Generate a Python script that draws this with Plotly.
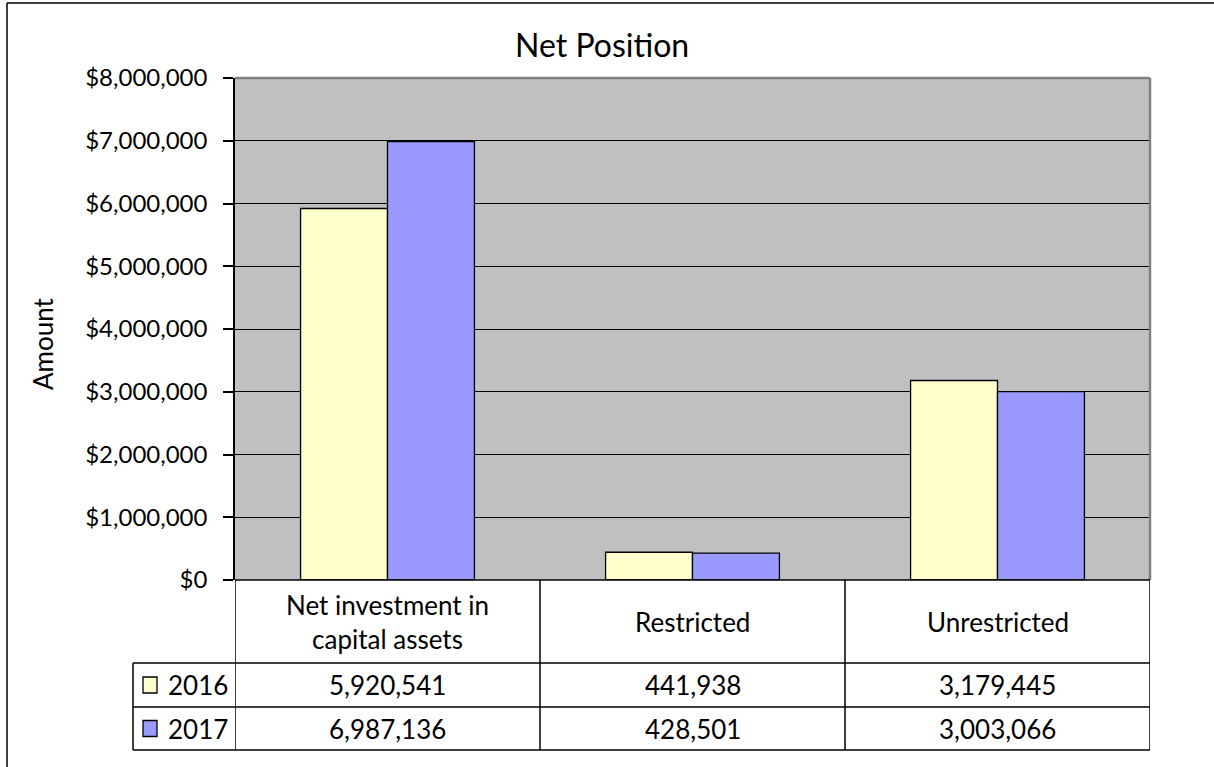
import plotly.graph_objects as go

categories = ["Net investment in capital assets", "Restricted", "Unrestricted"]
header_labels = ["Net investment in<br>capital assets", "Restricted", "Unrestricted"]
series_names = ["2016", "2017"]
values_2016 = [5920541, 441938, 3179445]
values_2017 = [6987136, 428501, 3003066]
colors = ["#FFFFCC", "#9999FF"]
y_ticks = [0, 1000000, 2000000, 3000000, 4000000, 5000000, 6000000, 7000000, 8000000]
y_tick_labels = ["$" + f"{v:,}" for v in y_ticks]

W, H = 1214, 767
L, R, T, B = 235, 1150, 78, 580
FONT = "Lato"


def px_x(x):
    return (x - L) / (R - L)


def px_y(y):
    return (B - y) / (B - T)


fig = go.Figure()
for name, vals, col in zip(series_names, [values_2016, values_2017], colors):
    fig.add_trace(go.Bar(
        x=categories, y=vals, name=name,
        marker=dict(color=col, line=dict(color="black", width=1.3)),
        showlegend=False,
    ))

shapes = []
annotations = []

# outer border of chart area (top and left edges visible)
shapes.append(dict(type="line", xref="paper", yref="paper",
                   x0=px_x(7), x1=px_x(W), y0=px_y(3), y1=px_y(3),
                   line=dict(color="black", width=1.5)))
shapes.append(dict(type="line", xref="paper", yref="paper",
                   x0=px_x(7), x1=px_x(7), y0=px_y(3), y1=px_y(H),
                   line=dict(color="black", width=1.5)))
# plot top & right border (grey)
shapes.append(dict(type="line", xref="paper", yref="paper", x0=0, x1=1, y0=1, y1=1,
                   line=dict(color="#808080", width=2.5)))
shapes.append(dict(type="line", xref="paper", yref="paper", x0=1, x1=1, y0=0, y1=1,
                   line=dict(color="#808080", width=2.5)))

# table geometry
row_lines = [663, 707, 750]
n = len(categories)
for yy in row_lines:
    shapes.append(dict(type="line", xref="paper", yref="paper",
                       x0=px_x(133), x1=1, y0=px_y(yy), y1=px_y(yy),
                       line=dict(color="black", width=1.5)))
for i in range(n + 1):
    shapes.append(dict(type="line", xref="x", yref="paper",
                       x0=i - 0.5, x1=i - 0.5, y0=0, y1=px_y(750),
                       line=dict(color="black", width=1.5)))
shapes.append(dict(type="line", xref="paper", yref="paper",
                   x0=px_x(133), x1=px_x(133), y0=px_y(663), y1=px_y(750),
                   line=dict(color="black", width=1.5)))
shapes.append(dict(type="line", xref="paper", yref="paper", x0=0, x1=1, y0=0, y1=0,
                   line=dict(color="black", width=1.5)))

# header row texts
for i, lab in enumerate(header_labels):
    annotations.append(dict(x=i, y=px_y(622), xref="x", yref="paper", text=lab,
                            showarrow=False, font=dict(family=FONT, size=26, color="black"),
                            xanchor="center", yanchor="middle"))

row_centers = [685, 728.5]
for r, (name, vals, col) in enumerate(zip(series_names, [values_2016, values_2017], colors)):
    yc = row_centers[r]
    for i, v in enumerate(vals):
        annotations.append(dict(x=i, y=px_y(yc), xref="x", yref="paper", text=f"{v:,}",
                                showarrow=False, font=dict(family=FONT, size=26, color="black"),
                                xanchor="center", yanchor="middle"))
    # legend swatch
    shapes.append(dict(type="rect", xref="paper", yref="paper",
                       x0=px_x(143), x1=px_x(157), y0=px_y(yc - 8), y1=px_y(yc + 8),
                       fillcolor=col, line=dict(color="black", width=1.3)))
    annotations.append(dict(x=px_x(198), y=px_y(yc), xref="paper", yref="paper", text=name,
                            showarrow=False, font=dict(family=FONT, size=26, color="black"),
                            xanchor="center", yanchor="middle"))

# title and axis title
annotations.append(dict(x=px_x(602), y=px_y(44), xref="paper", yref="paper", text="Net Position",
                        showarrow=False, font=dict(family=FONT, size=32, color="black"),
                        xanchor="center", yanchor="middle"))
annotations.append(dict(x=px_x(43), y=px_y(344), xref="paper", yref="paper", text="Amount",
                        showarrow=False, textangle=-90, font=dict(family=FONT, size=26, color="black"),
                        xanchor="center", yanchor="middle"))

fig.update_layout(
    width=W, height=H,
    margin=dict(l=L, r=W - R, t=T, b=H - B, pad=0),
    paper_bgcolor="white", plot_bgcolor="#C0C0C0",
    barmode="group", bargap=0.43, bargroupgap=0,
    shapes=shapes, annotations=annotations,
    font=dict(family=FONT, color="black"),
)
fig.update_xaxes(showticklabels=False, showgrid=False, zeroline=False, showline=False,
                 range=[-0.5, n - 0.5], fixedrange=True)
fig.update_yaxes(range=[0, 8000000], tickmode="array", tickvals=y_ticks, ticktext=y_tick_labels,
                 showgrid=True, gridcolor="black", gridwidth=1.3, zeroline=False,
                 showline=True, linecolor="black", linewidth=1.5,
                 ticks="outside", ticklen=10, tickcolor="black", tickwidth=1.5,
                 ticklabelstandoff=11,
                 tickfont=dict(family=FONT, size=24, color="black"), fixedrange=True)

fig.write_html("out.html", config={"displayModeBar": False})
